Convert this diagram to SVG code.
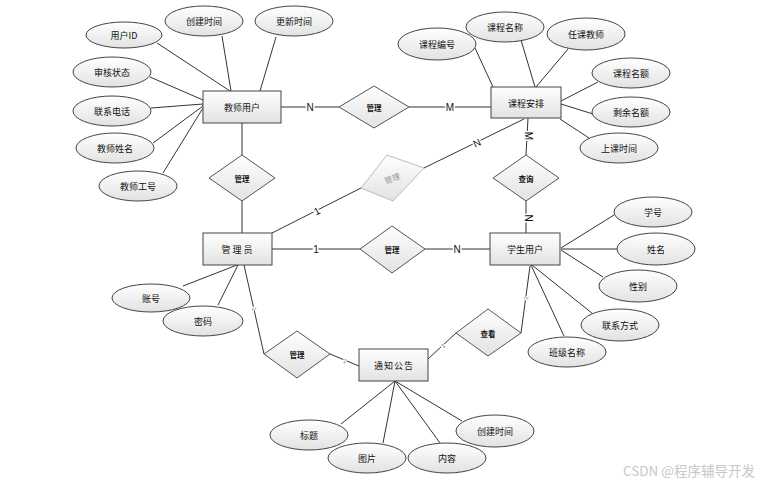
<svg xmlns="http://www.w3.org/2000/svg" width="768" height="485" viewBox="0 0 768 485">
<defs>
<linearGradient id="g" x1="0" y1="0" x2="0" y2="1"><stop offset="0" stop-color="#ffffff"/><stop offset="1" stop-color="#e2e2e2"/></linearGradient>
<style>
.ent rect{fill:url(#g);stroke:#444;stroke-width:1}
.att ellipse{fill:url(#g);stroke:#444;stroke-width:1}
.rel polygon{fill:url(#g);stroke:#555;stroke-width:1}
text{font-family:"Noto Sans CJK SC","Liberation Sans",sans-serif;fill:#111;text-anchor:middle;dominant-baseline:central}
.t{font-size:9px}
.r{font-size:7.5px;font-weight:bold}
.lab{font-family:"Liberation Sans","Noto Sans CJK SC",sans-serif;font-size:10px;stroke:#fff;stroke-width:3;paint-order:stroke}
.sm{font-family:"Liberation Sans",sans-serif;font-size:6px;fill:#777;stroke:#fff;stroke-width:2;paint-order:stroke}
#conn line{stroke:#333;stroke-width:1}
</style>
</defs>
<rect width="768" height="485" fill="#fff"/>
<g id="conn">
<line x1="157" y1="43" x2="230" y2="91"/>
<line x1="222" y1="36" x2="231" y2="91"/>
<line x1="276" y1="37" x2="260" y2="91"/>
<line x1="150" y1="77" x2="203" y2="100"/>
<line x1="151" y1="108" x2="203" y2="104"/>
<line x1="153" y1="143" x2="203" y2="106"/>
<line x1="163" y1="173" x2="203" y2="108"/>
<line x1="281" y1="107" x2="339" y2="107"/>
<line x1="409" y1="107" x2="491" y2="107"/>
<line x1="242" y1="123" x2="242" y2="155"/>
<line x1="242" y1="201" x2="242" y2="233"/>
<line x1="475" y1="48" x2="493" y2="87"/>
<line x1="521" y1="40" x2="535" y2="87"/>
<line x1="568" y1="49" x2="536" y2="87"/>
<line x1="598" y1="82" x2="561" y2="101"/>
<line x1="561" y1="104" x2="593" y2="114"/>
<line x1="560" y1="119" x2="589" y2="138"/>
<line x1="528" y1="118" x2="526" y2="155"/>
<line x1="526" y1="201" x2="526" y2="233"/>
<line x1="524" y1="119" x2="424" y2="168"/>
<line x1="361" y1="188" x2="272" y2="233"/>
<line x1="272" y1="249" x2="360" y2="249"/>
<line x1="425" y1="249" x2="490" y2="249"/>
<line x1="614" y1="215" x2="561" y2="248"/>
<line x1="561" y1="249" x2="617" y2="249"/>
<line x1="561" y1="250" x2="603" y2="277"/>
<line x1="532" y1="265" x2="593" y2="314"/>
<line x1="531" y1="265" x2="564" y2="336"/>
<line x1="530" y1="266" x2="521" y2="333"/>
<line x1="456" y1="333" x2="428" y2="359"/>
<line x1="183" y1="286" x2="237" y2="265"/>
<line x1="218" y1="305" x2="238" y2="265"/>
<line x1="244" y1="265" x2="264" y2="354"/>
<line x1="330" y1="354" x2="359" y2="366"/>
<line x1="395" y1="381" x2="341" y2="424"/>
<line x1="395" y1="381" x2="383" y2="443"/>
<line x1="395" y1="381" x2="440" y2="443"/>
<line x1="395" y1="381" x2="462" y2="421"/>
<text class="lab" x="310" y="107">N</text>
<text class="lab" x="450" y="107">M</text>
<text class="lab" transform="translate(528,136) rotate(90)">M</text>
<text class="lab" transform="translate(528,218) rotate(90)">N</text>
<text class="lab" transform="translate(477,143) rotate(-26)">N</text>
<text class="lab" transform="translate(317,211) rotate(-27)">1</text>
<text class="lab" x="316" y="249">1</text>
<text class="lab" x="457" y="249">N</text>
<text class="sm" transform="translate(526,298) rotate(-82)">1</text>
<text class="sm" transform="translate(443,346) rotate(-43)">1</text>
<text class="sm" transform="translate(254,309) rotate(77)">1</text>
<text class="sm" transform="translate(345,361) rotate(22)">1</text>
</g>
<g id="e-teacher" class="ent"><rect x="203" y="91" width="78" height="32"/><text class="t" x="242" y="107">教师用户</text></g>
<g id="e-course" class="ent"><rect x="491" y="87" width="70" height="31"/><text class="t" x="526" y="103">课程安排</text></g>
<g id="e-admin" class="ent"><rect x="203" y="233" width="69" height="32"/><text class="t" x="238" y="249" letter-spacing="2">管理员</text></g>
<g id="e-student" class="ent"><rect x="490" y="233" width="70" height="32"/><text class="t" x="525" y="249">学生用户</text></g>
<g id="e-notice" class="ent"><rect x="359" y="349" width="69" height="32"/><text class="t" x="394" y="365" letter-spacing="1">通知公告</text></g>
<g id="r-tc" class="rel"><polygon points="339,107 374,86 409,107 374,128"/><text class="r" x="374" y="107">管理</text></g>
<g id="r-ta" class="rel"><polygon points="209,178 242,155 275,178 242,201"/><text class="r" x="242" y="178">管理</text></g>
<g id="r-ac" class="rel"><polygon points="361,188 387,155 424,168 393,201" style="stroke:#bbb"/><text class="t" transform="translate(392,178) rotate(-20)" style="fill:#999;font-size:8px">管理</text></g>
<g id="r-cs" class="rel"><polygon points="493,178 526,155 559,178 526,201"/><text class="r" x="526" y="178">查询</text></g>
<g id="r-as" class="rel"><polygon points="360,249 392,226 425,249 392,273"/><text class="r" x="392" y="249">管理</text></g>
<g id="r-an" class="rel"><polygon points="264,354 297,331 330,354 297,378"/><text class="r" x="297" y="354">管理</text></g>
<g id="r-sn" class="rel"><polygon points="456,333 488,309 521,333 488,356"/><text class="r" x="488" y="333">查看</text></g>
<g id="a-uid" class="att"><ellipse cx="124" cy="35" rx="38" ry="13"/><text class="t" x="124" y="35">用户ID</text></g>
<g id="a-tcreate" class="att"><ellipse cx="204" cy="21" rx="39" ry="15"/><text class="t" x="204" y="21">创建时间</text></g>
<g id="a-tupdate" class="att"><ellipse cx="294" cy="21" rx="39" ry="15"/><text class="t" x="294" y="21">更新时间</text></g>
<g id="a-audit" class="att"><ellipse cx="112" cy="72" rx="39" ry="15"/><text class="t" x="112" y="72">审核状态</text></g>
<g id="a-phone" class="att"><ellipse cx="112" cy="111" rx="39" ry="15"/><text class="t" x="112" y="111">联系电话</text></g>
<g id="a-tname" class="att"><ellipse cx="115" cy="148" rx="39" ry="15"/><text class="t" x="115" y="148">教师姓名</text></g>
<g id="a-tno" class="att"><ellipse cx="138" cy="186" rx="39" ry="15"/><text class="t" x="138" y="186">教师工号</text></g>
<g id="a-cno" class="att"><ellipse cx="437" cy="44" rx="39" ry="16"/><text class="t" x="437" y="44">课程编号</text></g>
<g id="a-cname" class="att"><ellipse cx="505" cy="27" rx="39" ry="15"/><text class="t" x="505" y="27">课程名称</text></g>
<g id="a-cteacher" class="att"><ellipse cx="586" cy="34" rx="39" ry="16"/><text class="t" x="586" y="34">任课教师</text></g>
<g id="a-quota" class="att"><ellipse cx="631" cy="73" rx="39" ry="15"/><text class="t" x="631" y="73">课程名额</text></g>
<g id="a-remain" class="att"><ellipse cx="631" cy="112" rx="39" ry="15"/><text class="t" x="631" y="112">剩余名额</text></g>
<g id="a-ctime" class="att"><ellipse cx="619" cy="148" rx="39" ry="15"/><text class="t" x="619" y="148">上课时间</text></g>
<g id="a-acct" class="att"><ellipse cx="151" cy="298" rx="39" ry="14"/><text class="t" x="151" y="298">账号</text></g>
<g id="a-pwd" class="att"><ellipse cx="203" cy="321" rx="40" ry="15"/><text class="t" x="203" y="321">密码</text></g>
<g id="a-sno" class="att"><ellipse cx="653" cy="212" rx="39" ry="15"/><text class="t" x="653" y="212">学号</text></g>
<g id="a-sname" class="att"><ellipse cx="656" cy="249" rx="39" ry="16"/><text class="t" x="656" y="249">姓名</text></g>
<g id="a-sex" class="att"><ellipse cx="638" cy="286" rx="39" ry="16"/><text class="t" x="638" y="286">性别</text></g>
<g id="a-contact" class="att"><ellipse cx="620" cy="325" rx="39" ry="16"/><text class="t" x="620" y="325">联系方式</text></g>
<g id="a-class" class="att"><ellipse cx="567" cy="352" rx="39" ry="15"/><text class="t" x="567" y="352">班级名称</text></g>
<g id="a-title" class="att"><ellipse cx="309" cy="435" rx="39" ry="15"/><text class="t" x="309" y="435">标题</text></g>
<g id="a-pic" class="att"><ellipse cx="367" cy="458" rx="39" ry="15"/><text class="t" x="367" y="458">图片</text></g>
<g id="a-content" class="att"><ellipse cx="447" cy="458" rx="39" ry="15"/><text class="t" x="447" y="458">内容</text></g>
<g id="a-ncreate" class="att"><ellipse cx="495" cy="431" rx="39" ry="16"/><text class="t" x="495" y="431">创建时间</text></g>
<text x="689" y="470" style="font-size:13.5px;fill:#c8c8c8">CSDN @程序辅导开发</text>
</svg>
